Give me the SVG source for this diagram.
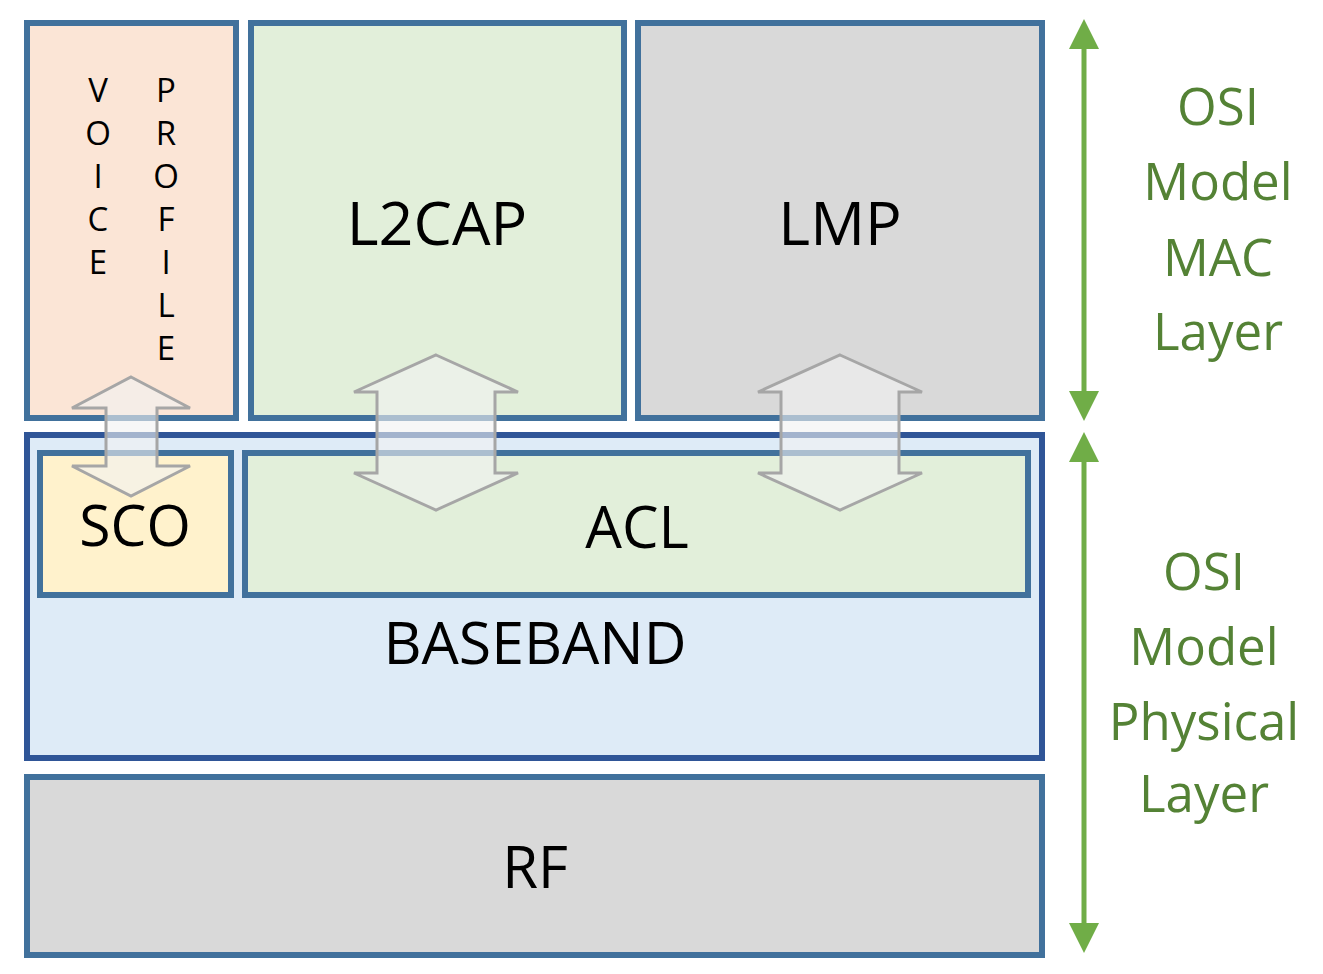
<svg xmlns="http://www.w3.org/2000/svg" width="1323" height="974" viewBox="0 0 1323 974">
<defs>
<style>
.box{stroke:#41719c;stroke-width:6}
.t{font-family:"Open Sans","Noto Sans",sans-serif;fill:#000;text-anchor:middle}
.g{font-family:"Open Sans","Noto Sans",sans-serif;fill:#548235;text-anchor:middle;font-size:51px}
.ba{fill:#f2f2f2;fill-opacity:0.6;stroke:#a6a6a6;stroke-width:3}
.ga{stroke:#70ad47;stroke-width:5;fill:none}
</style>
<marker id="ah" markerWidth="6" markerHeight="6" refX="3" refY="3" orient="auto-start-reverse" markerUnits="strokeWidth"><path d="M0,0 L6,3 L0,6 z" fill="#70ad47"/></marker>
</defs>
<rect width="1323" height="974" fill="#fff"/>
<g id="voice"><rect class="box" x="27" y="23" width="209" height="395" fill="#fbe5d6"/>
<g class="t" font-size="33"><text x="98" y="102">V</text><text x="98" y="145">O</text><text x="98" y="188">I</text><text x="98" y="231">C</text><text x="98" y="274">E</text>
<text x="166" y="102">P</text><text x="166" y="145">R</text><text x="166" y="188">O</text><text x="166" y="231">F</text><text x="166" y="274">I</text><text x="166" y="317">L</text><text x="166" y="360">E</text></g></g>
<g id="l2cap"><rect class="box" x="251" y="23" width="373" height="395" fill="#e2efda"/><text class="t" x="437" y="245" font-size="61">L2CAP</text></g>
<g id="lmp"><rect class="box" x="638" y="23" width="404" height="395" fill="#d9d9d9"/><text class="t" x="840" y="245" font-size="61">LMP</text></g>
<g id="baseband"><rect x="27" y="435" width="1015" height="323" fill="#deebf7" stroke="#2f5597" stroke-width="6"/><text class="t" x="535" y="664" font-size="59">BASEBAND</text></g>
<g id="sco"><rect class="box" x="40" y="453" width="191" height="142" fill="#fff2cc"/><text class="t" x="135" y="546" font-size="57">SCO</text></g>
<g id="acl"><rect class="box" x="245" y="453" width="783" height="142" fill="#e2efda"/><text class="t" x="637" y="548" font-size="58">ACL</text></g>
<g id="rf"><rect class="box" x="27" y="777" width="1015" height="178" fill="#d9d9d9"/><text class="t" x="535" y="888" font-size="58">RF</text></g>
<g id="connectors">
<path class="ba" d="M131,377 L190,408 L157,408 L157,466 L190,466 L131,496 L72,466 L106,466 L106,408 L72,408 Z"/>
<path class="ba" d="M436,355 L518,392 L495,392 L495,473 L518,473 L436,510 L354,473 L377,473 L377,392 L354,392 Z"/>
<path class="ba" d="M840,355 L922,392 L899,392 L899,473 L922,473 L840,510 L758,473 L781,473 L781,392 L758,392 Z"/>
<line class="ga" x1="1084" y1="34" x2="1084" y2="406" marker-start="url(#ah)" marker-end="url(#ah)"/>
<line class="ga" x1="1084" y1="447" x2="1084" y2="938" marker-start="url(#ah)" marker-end="url(#ah)"/>
</g>
<g id="labels">
<text class="g" x="1218" y="125">OSI</text><text class="g" x="1218" y="200">Model</text><text class="g" x="1218" y="276">MAC</text><text class="g" x="1218" y="350">Layer</text>
<text class="g" x="1204" y="590">OSI</text><text class="g" x="1204" y="665">Model</text><text class="g" x="1204" y="740">Physical</text><text class="g" x="1204" y="812">Layer</text>
</g>
</svg>
